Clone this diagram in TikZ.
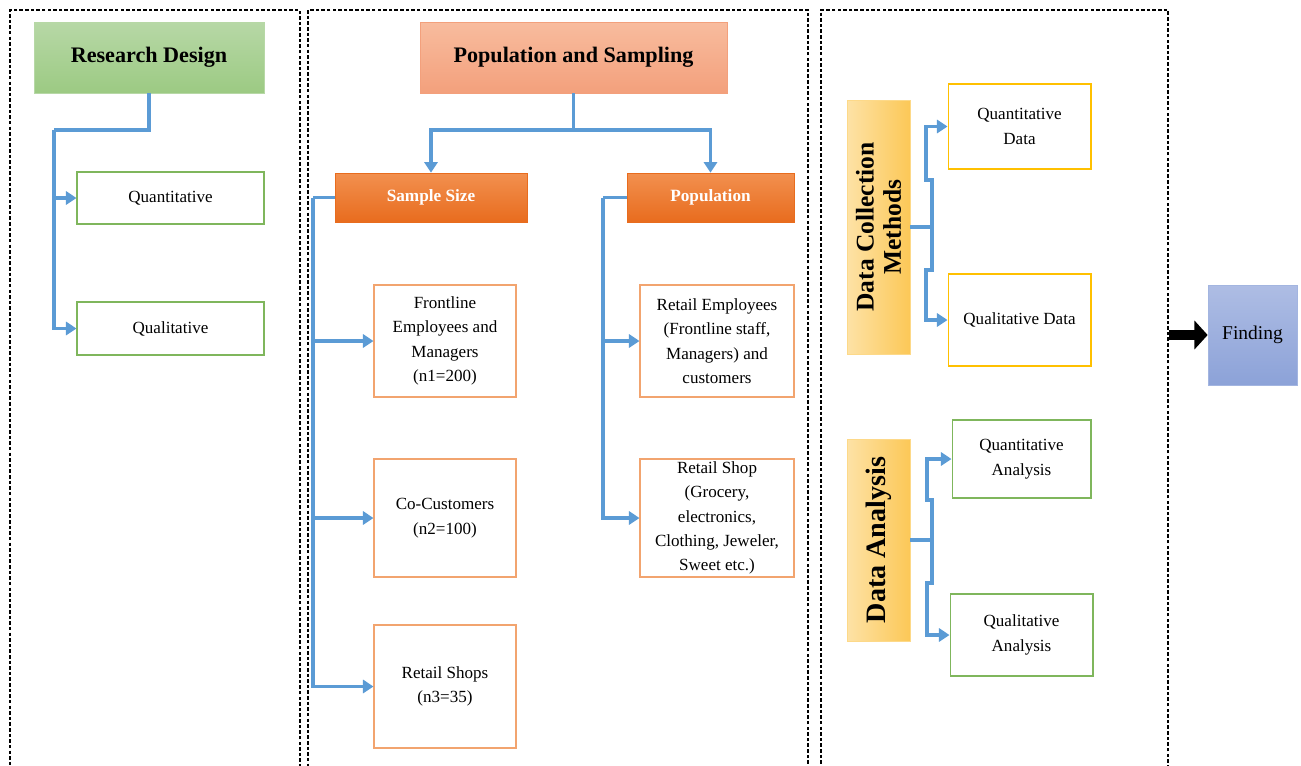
\documentclass[tikz,border=0pt]{standalone}
\usepackage{fontspec}
\setmainfont{Liberation Serif}
\usetikzlibrary{positioning, arrows.meta, fit}
\definecolor{linkblue}{HTML}{5B9BD5}
\definecolor{greenA}{HTML}{B7D8A6}
\definecolor{greenB}{HTML}{9CCA83}
\definecolor{greenline}{HTML}{7FB65C}
\definecolor{salmonA}{HTML}{F8BC9E}
\definecolor{salmonB}{HTML}{F3A07C}
\definecolor{orangeA}{HTML}{F2904F}
\definecolor{orangeB}{HTML}{E86C1E}
\definecolor{orangeline}{HTML}{F2A46F}
\definecolor{goldA}{HTML}{FDE2A6}
\definecolor{goldB}{HTML}{FCC857}
\definecolor{goldline}{HTML}{FFC000}
\definecolor{blueA}{HTML}{AEBDE4}
\definecolor{blueB}{HTML}{8CA2D8}
\newcommand{\boxfont}{\fontsize{9.7}{13.9}\selectfont}
\tikzset{
	panel/.style={draw=black, line width=0.8pt, dash pattern=on 2pt off 1.2pt, inner sep=0pt},
	plain/.style={rectangle, fill=white, line width=0.6pt, align=center, inner sep=0pt, font=\boxfont},
	link/.style={draw=linkblue, line width=2.1pt},
	arrow/.style={link, -{Triangle[length=6pt, width=7.5pt]}}
}

\begin{document}
\begin{tikzpicture}[
		x=0.02cm, y=-0.02cm,
		heading/.style={rectangle, align=center, inner sep=0pt, font=\fontsize{12.6}{15}\selectfont\bfseries},
		greenbox/.style={plain, draw=greenline, minimum width=3.74cm},
		orangebox/.style={plain, draw=orangeline},
		goldbox/.style={plain, draw=goldline, minimum width=2.86cm},
		sidebar/.style={rectangle, rotate=90, align=center, inner sep=0pt, draw=goldB!70, left color=goldA, right color=goldB, minimum height=1.26cm, font=\bfseries}
		]
		\useasboundingbox (0,0) rectangle (1301,765);
		
		\node[panel, minimum width=5.8cm, minimum height=15.2cm] (panel1) at (155,390) {};
		\node[panel, minimum width=10cm, minimum height=15.2cm] (panel2) at (558,390) {};
		\node[panel, minimum width=6.94cm, minimum height=15.2cm] (panel3) at (994.5,390) {};
		
		\node[heading, draw=greenA, top color=greenA, bottom color=greenB, minimum width=4.6cm, minimum height=1.42cm] (rd) at (149,57.5) {Research Design};
		\node[greenbox, minimum height=1.04cm] (quant) at (170.5,198) {Quantitative};
		\node[greenbox, minimum height=1.06cm] (qual) at (170.5,328.5) {Qualitative};
		
		\node[heading, draw=salmonB, top color=salmonA, bottom color=salmonB, minimum width=6.14cm, minimum height=1.42cm] (ps) at (573.5,57.5) {Population and Sampling};
		\node[heading, text=white, draw=orangeB, top color=orangeA, bottom color=orangeB, minimum width=3.84cm, minimum height=0.98cm, font=\fontsize{9.8}{12}\selectfont\bfseries] (ss) at (431,197.5) {Sample Size};
		\node[heading, text=white, draw=orangeB, top color=orangeA, bottom color=orangeB, minimum width=3.34cm, minimum height=0.98cm, font=\fontsize{9.8}{12}\selectfont\bfseries] (pop) at (710.5,197.5) {Population};
		
		\node[orangebox, minimum width=2.84cm, minimum height=2.24cm] (fl) at (445,341) {Frontline\\Employees and\\Managers\\(n1=200)};
		\node[orangebox, minimum width=2.84cm, minimum height=2.36cm] (cc) at (445,518) {Co-Customers\\(n2=100)};
		\node[orangebox, minimum width=2.84cm, minimum height=2.46cm] (rs) at (445,686.5) {Retail Shops\\(n3=35)};
		\node[orangebox, minimum width=3.08cm, minimum height=2.24cm] (re) at (717,341) {Retail Employees\\(Frontline staff,\\Managers) and\\customers};
		\node[orangebox, minimum width=3.08cm, minimum height=2.36cm] (rsh) at (717,518) {Retail Shop\\(Grocery,\\electronics,\\Clothing, Jeweler,\\Sweet etc.)};
		
		\node[sidebar, minimum width=5.08cm, font=\fontsize{14.5}{15.5}\selectfont\bfseries] (dcm) at (878.5,227) {Data Collection\\Methods};
		\node[goldbox, minimum height=1.7cm] (qd) at (1019.5,126.5) {Quantitative\\Data};
		\node[goldbox, minimum height=1.84cm] (qld) at (1019.5,320) {Qualitative Data};
		
		\node[sidebar, minimum width=4.04cm, font=\fontsize{16}{18}\selectfont\bfseries] (da) at (878.5,540) {Data Analysis};
		\node[greenbox, minimum width=2.78cm, minimum height=1.56cm] (qa) at (1021.5,459) {Quantitative\\Analysis};
		\node[greenbox, minimum width=2.86cm, minimum height=1.64cm] (qla) at (1021.5,635) {Qualitative\\Analysis};
		
		\node[rectangle, draw=blueB!80, top color=blueA, bottom color=blueB, minimum width=1.78cm, minimum height=2cm, font=\fontsize{11.1}{13}\selectfont] (find) at (1252.5,335) {Finding};
		
		\coordinate (rdk) at (54,130);
		\coordinate (psk) at (573.5,130);
		\coordinate (ssk) at (313,197.5);
		\coordinate (popk) at (603,197.5);
		\coordinate (dcmk) at (932,227);
		\coordinate (dak) at (932,540);
		
		\draw[link] (rd.south) |- (rdk);
		\draw[arrow] (rdk) |- (quant.west);
		\draw[arrow] (rdk) |- (qual.west);
		
		\draw[link] (ps.south) -- (psk);
		\draw[arrow] (psk) -| (ss.north);
		\draw[arrow] (psk) -| (pop.north);
		
		\draw[link] (ss.west) -- (ssk);
		\draw[arrow] (ssk) |- (fl.west);
		\draw[arrow] (ssk) |- (cc.west);
		\draw[arrow] (ssk) |- (rs.west);
		
		\draw[link] (pop.west) -- (popk);
		\draw[arrow] (popk) |- (re.west);
		\draw[arrow] (popk) |- (rsh.west);
		
		\draw[link] (dcm.south) -- (dcmk);
		\draw[arrow] (dcmk) -- ++(0,-47) -- ++(-6,0) |- (qd.west);
		\draw[arrow] (dcmk) -- ++(0,43) -- ++(-6,0) |- (qld.west);
		
		\draw[link] (da.south) -- (dak);
		\draw[arrow] (dak) -- ++(0,-40) -- ++(-5,0) |- (qa.west);
		\draw[arrow] (dak) -- ++(0,43) -- ++(-5,0) |- (qla.west);
		
		\draw[line width=5.5pt, -{Triangle[length=7.5pt, width=16pt]}] (panel3.east |- find.west) -- (find.west);
	\end{tikzpicture}
\end{document}
